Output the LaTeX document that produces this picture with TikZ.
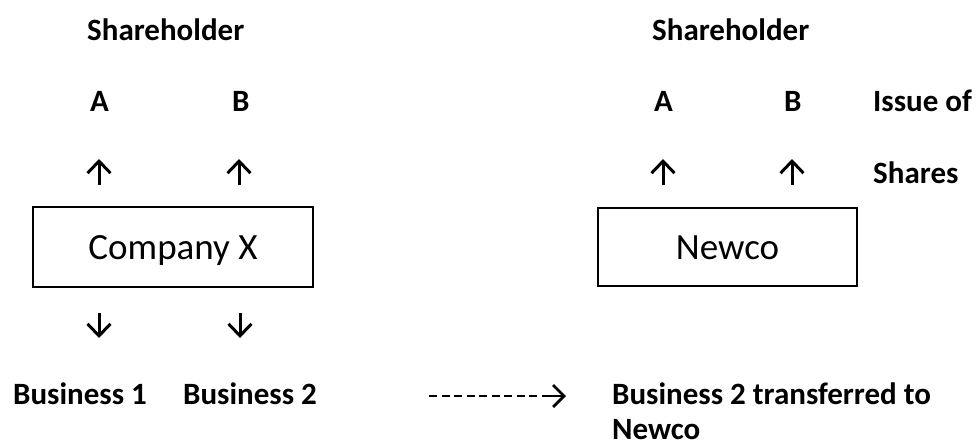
\documentclass[tikz,border=0pt]{standalone}
\usepackage{fontspec}
\setmainfont{Carlito}
\usetikzlibrary{arrows.meta}
\begin{document}
\begin{tikzpicture}[x=1pt,y=-1pt,
  lbl/.style={anchor=base west, inner sep=0pt, font=\fontsize{31}{36}\selectfont\bfseries},
  box/.style={draw, line width=1.5pt, inner sep=0pt, font=\fontsize{37}{44}\selectfont, text height=24pt, text depth=0pt},
  uparr/.style={line width=3pt, -{Straight Barb[length=12pt,width=23pt]}},
  dashline/.style={line width=2.6pt, dash pattern=on 8pt off 4.5pt},
  dasharr/.style={line width=2.8pt, -{Straight Barb[length=11pt,width=22pt]}}]
\useasboundingbox (0,0) rectangle (976,445);
% labels
\node[lbl] (shL) at (87,40) {Shareholder};
\node[lbl] (aL) at (90,111) {A};
\node[lbl] (bL) at (232,111) {B};
\node[lbl] (shR) at (652,40) {Shareholder};
\node[lbl] (aR) at (654,111) {A};
\node[lbl] (bR) at (784,111) {B};
\node[lbl] (issue) at (873,111) {Issue of};
\node[lbl] (shares) at (873,183) {Shares};
\node[lbl] (b1) at (13,404) {Business 1};
\node[lbl] (b2) at (183,404) {Business 2};
\node[lbl] (b2t) at (612,404) {Business 2 transferred to};
\node[lbl] (nwt) at (612,439) {Newco};
% boxes
\node[box, minimum width=280pt, minimum height=80pt] (cx) at (173,247) {Company X};
\node[box, minimum width=259pt, minimum height=78pt] (nc) at (727.5,247) {Newco};
% arrow coordinates
\coordinate (u1s) at (99,185);  \coordinate (u1e) at (99,159);
\coordinate (u2s) at (239,185); \coordinate (u2e) at (239,159);
\coordinate (u3s) at (663,185); \coordinate (u3e) at (663,159);
\coordinate (u4s) at (792,185); \coordinate (u4e) at (792,159);
\coordinate (d1s) at (99,313);  \coordinate (d1e) at (99,338);
\coordinate (d2s) at (240,313); \coordinate (d2e) at (240,338);
\coordinate (t0) at (429,396); \coordinate (t1) at (537,396);
\coordinate (t2) at (542,396); \coordinate (t3) at (566,396);
\draw[uparr] (u1s) -- (u1e);
\draw[uparr] (u2s) -- (u2e);
\draw[uparr] (u3s) -- (u3e);
\draw[uparr] (u4s) -- (u4e);
\draw[uparr] (d1s) -- (d1e);
\draw[uparr] (d2s) -- (d2e);
\draw[dashline] (t0) -- (t1);
\draw[dasharr] (t2) -- (t3);
\end{tikzpicture}
\end{document}
